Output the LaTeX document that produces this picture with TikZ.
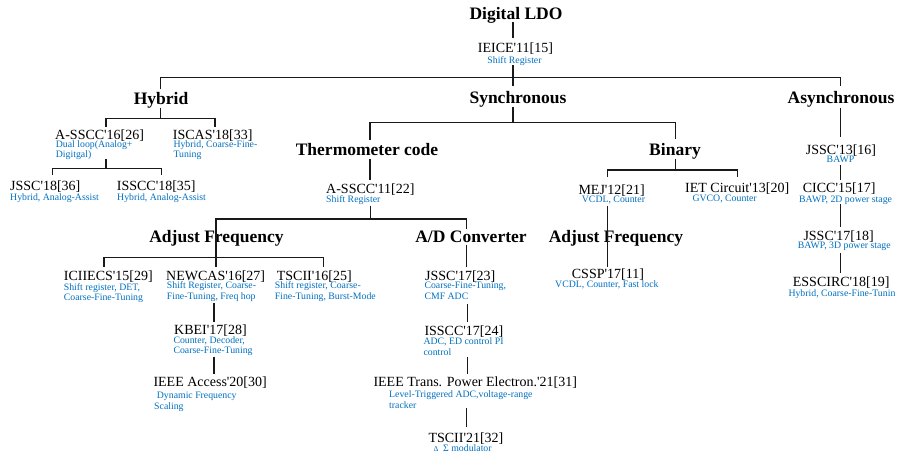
\documentclass[tikz,border=0pt]{standalone}
\usepackage{fontspec}
\setmainfont{Liberation Serif}
\definecolor{refblue}{RGB}{0,112,192}
\newcommand{\ap}{\textquotesingle}
\begin{document}
\begin{tikzpicture}[x=1pt,y=-1pt,
  cat/.style={font=\fontsize{17.5}{20}\selectfont\bfseries, inner sep=0pt, anchor=base},
  pap/.style={font=\fontsize{14}{16}\selectfont, inner sep=0pt, anchor=base west},
  desc/.style={font=\fontsize{9.8}{11}\selectfont, text=refblue, inner sep=0pt, anchor=base west},
  link/.style={line width=1.1pt, black!90}]
\useasboundingbox (0,0) rectangle (898,458);

% ---------- texts ----------
\node[cat] (root) at (516,19.5) {Digital LDO};
\node[pap, anchor=base] (ieice) at (515.5,52.5) {IEICE\ap11[15]};
\node[desc, anchor=base] (ieiced) at (514.5,63) {Shift Register};

\node[cat] (hyb) at (161,104) {Hybrid};
\node[cat] (sync) at (518,103.5) {Synchronous};
\node[cat] (async) at (841,103.5) {Asynchronous};

\node[pap] (asscc16) at (55,139.5) {A-SSCC\ap16[26]};
\node[desc] (asscc16d1) at (55.7,147) {Dual loop(Analog+};
\node[desc] (asscc16d2) at (55.7,157) {Digitgal)};
\node[pap] (iscas18) at (172.7,139.5) {ISCAS\ap18[33]};
\node[desc] (iscas18d1) at (173.3,147) {Hybrid, Coarse-Fine-};
\node[desc] (iscas18d2) at (173.3,157) {Tuning};
\node[pap] (jssc18) at (10,190) {JSSC\ap18[36]};
\node[desc] (jssc18d) at (10,200) {Hybrid, Analog-Assist};
\node[pap] (isscc18) at (116.7,190) {ISSCC\ap18[35]};
\node[desc] (isscc18d) at (117,200) {Hybrid, Analog-Assist};

\node[cat] (thermo) at (367,155.5) {Thermometer code};
\node[cat] (binary) at (675,155) {Binary};
\node[pap] (asscc11) at (326,193.3) {A-SSCC\ap11[22]};
\node[desc] (asscc11d) at (326,202.7) {Shift Register};

\node[pap] (mej) at (578.3,194) {MEJ\ap12[21]};
\node[desc] (mejd) at (581.7,202.7) {VCDL, Counter};
\node[pap] (iet) at (685,192.7) {IET Circuit\ap13[20]};
\node[desc] (ietd) at (692.3,201) {GVCO, Counter};

\node[pap] (jssc13) at (805.7,154) {JSSC\ap13[16]};
\node[desc, anchor=base] (jssc13d) at (840.5,162.7) {BAWP};
\node[pap] (cicc15) at (802.7,192.7) {CICC\ap15[17]};
\node[desc] (cicc15d) at (799,202) {BAWP, 2D power stage};
\node[pap] (jssc17b) at (803.3,240.7) {JSSC\ap17[18]};
\node[desc] (jssc17bd) at (797.7,248.5) {BAWP, 3D power stage};
\node[pap] (esscirc) at (792.7,286.7) {ESSCIRC\ap18[19]};
\node[desc] (esscircd) at (788.3,296) {Hybrid, Coarse-Fine-Tunin};

\node[cat] (adjl) at (216.5,242.5) {Adjust Frequency};
\node[cat] (adc) at (471,242) {A/D Converter};
\node[cat] (adjr) at (616,242.7) {Adjust Frequency};

\node[pap] (iciiecs) at (63.7,280) {ICIIECS\ap15[29]};
\node[desc] (iciiecsd1) at (63.7,290) {Shift register, DET,};
\node[desc] (iciiecsd2) at (63.7,300.7) {Coarse-Fine-Tuning};
\node[pap] (newcas) at (166,280) {NEWCAS\ap16[27]};
\node[desc] (newcasd1) at (166.7,288.3) {Shift Register, Coarse-};
\node[desc] (newcasd2) at (166.7,299) {Fine-Tuning, Freq hop};
\node[pap] (tscii16) at (276.7,280) {TSCII\ap16[25]};
\node[desc] (tscii16d1) at (274.7,288.5) {Shift register, Coarse-};
\node[desc] (tscii16d2) at (274.7,299) {Fine-Tuning, Burst-Mode};
\node[pap] (kbei) at (174,334.3) {KBEI\ap17[28]};
\node[desc] (kbeid1) at (173.3,343) {Counter, Decoder,};
\node[desc] (kbeid2) at (173.3,353.5) {Coarse-Fine-Tuning};
\node[pap] (access) at (153.3,386.7) {IEEE Access\ap20[30]};
\node[desc] (accessd1) at (156.7,398.3) {Dynamic Frequency};
\node[desc] (accessd2) at (154,409) {Scaling};

\node[pap] (jssc17a) at (425,280.7) {JSSC\ap17[23]};
\node[desc] (jssc17ad1) at (424.3,288.5) {Coarse-Fine-Tuning,};
\node[desc] (jssc17ad2) at (424.3,299) {CMF ADC};
\node[pap] (isscc17) at (424.3,335.7) {ISSCC\ap17[24]};
\node[desc] (isscc17d1) at (423.3,344) {ADC, ED control PI};
\node[desc] (isscc17d2) at (423.3,355) {control};
\node[pap] (tpe) at (373.3,386.7) {IEEE Trans. Power Electron.\ap21[31]};
\node[desc] (tped1) at (389,397.3) {Level-Triggered ADC,voltage-range};
\node[desc] (tped2) at (389,408.3) {tracker};
\node[pap] (tscii21) at (428.3,442.3) {TSCII\ap21[32]};
\node[desc] (tscii21d) at (433.3,451.7) {{\fontsize{7.5}{9}\selectfont Δ}\ \ Σ modulator};

\node[pap] (cssp) at (571.7,278.3) {CSSP\ap17[11]};
\node[desc] (csspd) at (555,287.3) {VCDL, Counter, Fast lock};

% ---------- junction coordinates ----------
\coordinate (rootB) at (513,22);
\coordinate (ieiceT) at (513,38);
\coordinate (ieiceB) at (513,65);
\coordinate (syncT) at (513,86);
\coordinate (mainL) at (160.7,77.3);
\coordinate (mainR) at (840.7,77.3);
\coordinate (hybT) at (160.7,89);
\coordinate (asyT) at (840.7,86);

\coordinate (hybB) at (160.7,107.5);
\coordinate (hybJ) at (160.7,118.3);
\coordinate (hybL) at (106,118.3);
\coordinate (hybR) at (215,118.3);
\coordinate (asscc16T) at (106,126.5);
\coordinate (iscas18T) at (215,126.5);
\coordinate (asscc16B) at (106,159);
\coordinate (a16J) at (106,168.3);
\coordinate (a16L) at (52.3,168.3);
\coordinate (a16R) at (161.3,168.3);
\coordinate (jssc18T) at (52.3,175);
\coordinate (isscc18T) at (161.3,175);

\coordinate (syncB) at (513,107);
\coordinate (syncJ) at (513,122.7);
\coordinate (syncL) at (370,122.7);
\coordinate (syncR) at (675.3,122.7);
\coordinate (thermoT) at (370,140);
\coordinate (binaryT) at (675.3,138.5);
\coordinate (thermoB) at (370,159);
\coordinate (asscc11T) at (370,179.5);
\coordinate (asscc11B) at (370.7,205.5);
\coordinate (a11J) at (370.7,219);
\coordinate (a11L) at (216,219);
\coordinate (a11R) at (466.7,219);
\coordinate (adjlJ) at (216,257.7);
\coordinate (adjlL) at (104,257.7);
\coordinate (adjlR) at (323.7,257.7);
\coordinate (newcasT) at (216,266.7);
\coordinate (iciiecsT) at (104,266.7);
\coordinate (tscii16T) at (323.7,266.7);
\coordinate (adcT) at (466.7,228.5);
\coordinate (adcB) at (466.7,244.5);
\coordinate (jssc17aT) at (466.7,266.7);
\coordinate (newcasB) at (214,303.3);
\coordinate (kbeiT) at (214,321.7);
\coordinate (kbeiB) at (214,356.7);
\coordinate (accessT) at (214,374);
\coordinate (jssc17aB) at (467.7,304);
\coordinate (isscc17T) at (467.7,321.7);
\coordinate (isscc17B) at (467.7,356.7);
\coordinate (tpeT) at (467.7,374.3);
\coordinate (tpeB) at (466.3,408.3);
\coordinate (tscii21T) at (466.3,426.7);

\coordinate (binaryB) at (675.3,158.5);
\coordinate (binJ) at (675.3,170);
\coordinate (binL) at (607.3,170);
\coordinate (binR) at (737.3,170);
\coordinate (mejT) at (607.3,177);
\coordinate (ietT) at (737.3,177);
\coordinate (mejB) at (607.3,205.5);
\coordinate (csspT) at (607.3,266.7);

\coordinate (asyB) at (840.7,107.5);
\coordinate (jssc13T) at (840.7,136.7);
\coordinate (jssc13B) at (840.7,164.5);
\coordinate (cicc15T) at (840.7,180);
\coordinate (cicc15B) at (840.7,204);
\coordinate (jssc17bT) at (840.7,226.7);
\coordinate (jssc17bB) at (840.7,252.7);
\coordinate (esscircT) at (840.7,273.3);

% ---------- connectors ----------
\draw[link] (rootB) -- (ieiceT);
\draw[link] (ieiceB) -- (syncT);
\draw[link] (hybT) -- (mainL) -- (mainR) -- (asyT);

\draw[link] (hybB) -- (hybJ);
\draw[link] (asscc16T) -- (hybL) -- (hybR) -- (iscas18T);
\draw[link] (asscc16B) -- (a16J);
\draw[link] (jssc18T) -- (a16L) -- (a16R) -- (isscc18T);

\draw[link] (syncB) -- (syncJ);
\draw[link] (thermoT) -- (syncL) -- (syncR) -- (binaryT);
\draw[link] (thermoB) -- (asscc11T);
\draw[link] (asscc11B) -- (a11J);
\draw[link] (newcasT) -- (a11L) -- (a11R) -- (adcT);
\draw[link] (iciiecsT) -- (adjlL) -- (adjlR) -- (tscii16T);
\draw[link] (adcB) -- (jssc17aT);
\draw[link] (newcasB) -- (kbeiT);
\draw[link] (kbeiB) -- (accessT);
\draw[link] (jssc17aB) -- (isscc17T);
\draw[link] (isscc17B) -- (tpeT);
\draw[link] (tpeB) -- (tscii21T);

\draw[link] (binaryB) -- (binJ);
\draw[link] (mejT) -- (binL) -- (binR) -- (ietT);
\draw[link] (mejB) -- (csspT);

\draw[link] (asyB) -- (jssc13T);
\draw[link] (jssc13B) -- (cicc15T);
\draw[link] (cicc15B) -- (jssc17bT);
\draw[link] (jssc17bB) -- (esscircT);
\end{tikzpicture}
\end{document}
